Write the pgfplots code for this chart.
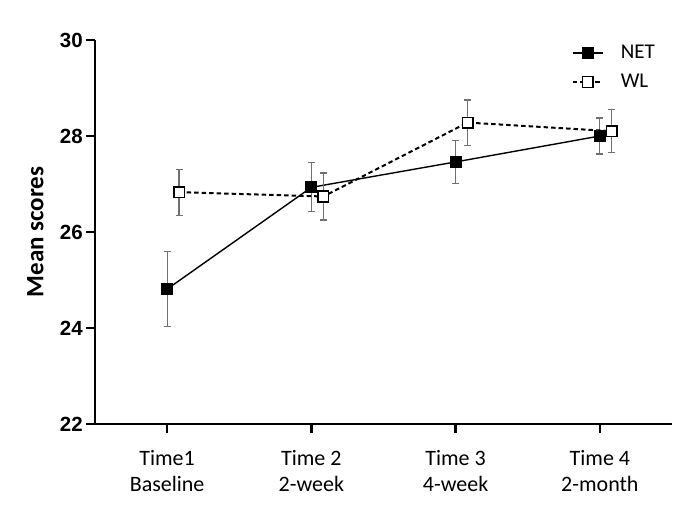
\documentclass[border=0pt]{standalone}
\usepackage{pgfplots}
\pgfplotsset{compat=1.18}
\usepackage{fontspec}
\setmainfont{Carlito}
\newfontfamily\arialfont{Liberation Sans}
\definecolor{errgray}{HTML}{707070}
\begin{document}
\begin{tikzpicture}
\useasboundingbox (0,0) rectangle (685pt,516pt);
\begin{axis}[
  at={(95pt,92pt)}, anchor=south west,
  scale only axis, width=577pt, height=384pt,
  xmin=-0.5, xmax=3.5, ymin=22, ymax=30,
  axis lines*=left,
  axis line style={line width=2.7pt, black},
  every tick/.style={black, line width=2.5pt},
  tick align=outside,
  major tick length=9pt,
  ytick={22,24,26,28,30},
  xtick={0,1,2,3},
  xticklabels={{Time1\\Baseline},{Time 2\\2-week},{Time 3\\4-week},{Time 4\\2-month}},
  /pgf/number format/assume math mode=true,
  yticklabel style={font=\arialfont\bfseries\fontsize{20.5}{22}\selectfont, inner sep=0pt, xshift=-3pt},
  xticklabel style={font=\fontsize{22}{25.7}\selectfont, align=center, inner sep=0pt, yshift=-17pt},
  ylabel={Mean scores},
  ylabel style={font=\bfseries\fontsize{25}{29}\selectfont, at={(axis description cs:-0.0895,0.5)}, anchor=base, inner sep=0pt},
  clip=false,
  legend style={draw=none, fill=none, at={(axis description cs:0.826,0.9284)}, anchor=west, inner sep=0pt,
    font=\fontsize{21}{24}\selectfont, row sep=10pt,
    /tikz/every odd column/.append style={column sep=15pt}},
  legend image code/.code={\draw[mark repeat=2,mark phase=2,#1] plot coordinates {(0pt,0pt) (15pt,0pt) (30pt,0pt)};},
  legend cell align=left,
]
\addplot[black, line width=1.4pt, mark=square*, mark size=5.5pt, mark options={solid, fill=black, line width=1pt},
  error bars/.cd, y dir=both, y explicit, error bar style={errgray, line width=1.2pt, solid},
  error mark options={rotate=90, mark size=3.5pt, errgray, line width=1.2pt, solid}]
  coordinates {
  (0,24.81) +- (0,0.78)
  (1,26.93) +- (0,0.51)
  (2,27.46) +- (0,0.45)
  (3,28.00) +- (0,0.375)
  };
\addlegendentry{NET}
\addplot[black, line width=2pt, dash pattern=on 4.5pt off 3pt, mark=square*, mark size=5.3pt, mark options={solid, fill=white, draw=black, line width=1.5pt},
  error bars/.cd, y dir=both, y explicit, error bar style={errgray, line width=1.2pt, solid},
  error mark options={rotate=90, mark size=3.5pt, errgray, line width=1.2pt, solid}]
  coordinates {
  (0.083,26.83) +- (0,0.48)
  (1.083,26.74) +- (0,0.49)
  (2.083,28.28) +- (0,0.47)
  (3.083,28.10) +- (0,0.45)
  };
\addlegendentry{WL}
\end{axis}
\end{tikzpicture}
\end{document}
